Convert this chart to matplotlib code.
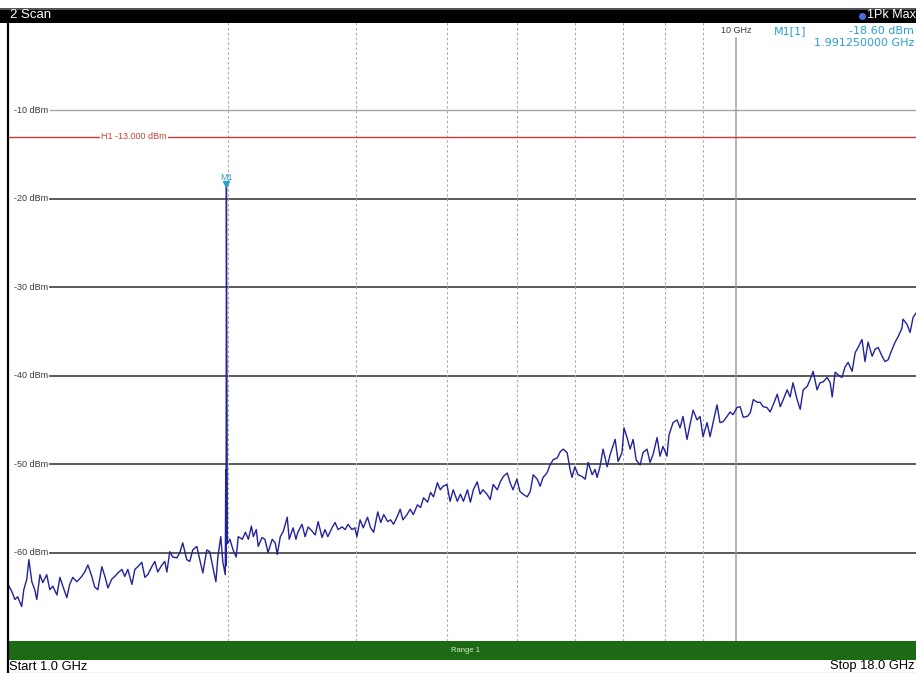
import matplotlib
matplotlib.use("Agg")
import matplotlib.pyplot as plt
from matplotlib.patches import Rectangle
from matplotlib.lines import Line2D
import matplotlib.transforms as mtransforms

# ---------------- data ----------------
freq_ghz = [
    1.000, 1.009, 1.019, 1.028, 1.041, 1.048, 1.058, 1.065, 1.075, 1.085,
    1.092, 1.103, 1.113, 1.127, 1.138, 1.149, 1.164, 1.175, 1.186, 1.201,
    1.212, 1.224, 1.240, 1.259, 1.271, 1.284, 1.300, 1.312, 1.325, 1.342,
    1.355, 1.368, 1.385, 1.398, 1.412, 1.430, 1.443, 1.457, 1.476, 1.490,
    1.504, 1.523, 1.538, 1.552, 1.572, 1.587, 1.602, 1.623, 1.638, 1.649,
    1.664, 1.680, 1.702, 1.718, 1.734, 1.756, 1.773, 1.790, 1.813, 1.830,
    1.848, 1.871, 1.889, 1.907, 1.926, 1.938, 1.956, 1.969, 1.981,
    1.984, 1.987, 1.989, 1.99125, 1.994, 1.997,
    2.0135, 2.0337, 2.0539, 2.0674, 2.0943, 2.1146, 2.1348, 2.1550, 2.1685, 2.1887,
    2.2022, 2.2291, 2.2493, 2.2718, 2.3018, 2.3243, 2.3393, 2.3619, 2.3844, 2.4144,
    2.4294, 2.4595, 2.4820, 2.4970, 2.5299, 2.5548, 2.5797, 2.6130, 2.6379, 2.6628,
    2.6960, 2.7209, 2.7459, 2.7818, 2.8091, 2.8364, 2.8727, 2.9000, 2.9273, 2.9636,
    2.9909, 3.0103, 3.0412, 3.0720, 3.1132, 3.1440, 3.1749, 3.2160, 3.2469, 3.2778,
    3.3189, 3.3498, 3.3807, 3.4218, 3.4527, 3.4835, 3.5285, 3.5641, 3.5998, 3.6473,
    3.6829, 3.7185, 3.7660, 3.8017, 3.8373, 3.8848, 3.9204, 3.9560, 4.0040, 4.0444,
    4.0847, 4.1384, 4.1788, 4.2191, 4.2729, 4.3132, 4.3535, 4.4073, 4.4476, 4.4879,
    4.5465, 4.5916, 4.6366, 4.6967, 4.7417, 4.7868, 4.8468, 4.8919, 4.9369, 4.9970,
    5.0467, 5.0967, 5.1633, 5.2133, 5.2633, 5.3300, 5.3800, 5.4300, 5.4967, 5.5509,
    5.6055, 5.6782, 5.7327, 5.7873, 5.8600, 5.9145, 5.9509, 6.0060, 6.0655, 6.1448,
    6.2044, 6.2639, 6.3433, 6.4028, 6.4425, 6.5021, 6.5662, 6.6517, 6.7158, 6.8227,
    6.8868, 6.9722, 7.0161, 7.0849, 7.1537, 7.2225, 7.2913, 7.3830, 7.4518, 7.5466,
    7.6201, 7.6936, 7.7917, 7.8652, 7.9387, 8.0393, 8.0916, 8.1963, 8.3010, 8.3796,
    8.4581, 8.5667, 8.6500, 8.7333, 8.8444, 8.9278, 9.0117, 9.1287, 9.2164, 9.3041,
    9.4211, 9.5093, 9.6019, 9.7253, 9.8179, 9.9105, 10.0365, 10.1362, 10.2359, 10.3688,
    10.4684, 10.5681, 10.7010, 10.8007, 10.9003, 11.0365, 11.1460, 11.2555, 11.4015, 11.5109,
    11.6204, 11.7664, 11.8759, 11.9842, 12.1423, 12.2609, 12.3794, 12.5376, 12.6561, 12.7747,
    12.9328, 13.0556, 13.1838, 13.3547, 13.4829, 13.5684, 13.6966, 13.8248, 13.9954, 14.1330,
    14.2706, 14.4541, 14.5917, 14.7294, 14.9129, 15.0542, 15.2020, 15.3990, 15.5468, 15.6946,
    15.8916, 16.0417, 16.1979, 16.4063, 16.5625, 16.7187, 16.9271, 16.9800, 17.2000, 17.3667,
    17.5333, 17.7000, 17.8500, 18.0000,
]

level_dbm = [
    -63.8, -64.4, -65.3, -65.0, -66.1, -64.2, -63.0, -60.8, -63.3, -64.2,
    -65.3, -62.5, -63.4, -62.5, -64.2, -63.8, -64.8, -62.8, -63.8, -65.1,
    -63.6, -62.8, -63.3, -62.7, -62.2, -61.4, -62.7, -63.9, -64.2, -61.6,
    -62.7, -64.0, -63.0, -62.7, -62.3, -61.9, -62.7, -61.9, -63.6, -61.9,
    -61.6, -61.1, -62.8, -62.5, -61.6, -61.0, -62.2, -61.4, -61.0, -62.2,
    -59.9, -60.5, -60.6, -60.0, -58.9, -60.8, -61.0, -59.7, -59.3, -60.8,
    -62.3, -59.7, -59.9, -61.6, -63.3, -60.5, -58.2, -61.1, -62.2,
    -62.5, -50.6, -61.5, -18.6, -40.2, -59.0,
    -58.5, -59.7, -60.5, -58.2, -58.5, -57.7, -58.5, -57.0, -58.2, -57.4,
    -59.3, -58.3, -58.5, -60.0, -58.5, -58.9, -60.2, -58.2, -57.6, -56.0,
    -58.5, -57.2, -58.5, -57.7, -56.8, -58.2, -57.1, -57.6, -58.0, -56.5,
    -58.3, -57.4, -58.2, -57.2, -56.6, -57.4, -57.1, -57.4, -56.8, -57.4,
    -57.2, -58.2, -56.3, -57.2, -56.0, -57.2, -57.7, -55.4, -56.6, -55.7,
    -56.5, -56.3, -56.8, -55.9, -55.1, -56.3, -55.7, -55.1, -55.7, -54.6,
    -54.9, -53.8, -54.3, -53.2, -53.7, -52.1, -52.9, -52.5, -52.3, -54.2,
    -52.9, -54.2, -53.4, -54.2, -52.9, -54.3, -52.9, -52.0, -53.4, -52.9,
    -53.4, -54.0, -52.3, -52.9, -52.0, -51.4, -51.0, -52.1, -52.9, -51.7,
    -53.1, -53.4, -53.7, -53.1, -51.2, -51.7, -52.5, -51.5, -51.0, -50.1,
    -49.5, -49.3, -48.6, -48.3, -48.7, -50.6, -51.5, -50.3, -51.2, -51.4,
    -51.7, -49.8, -51.2, -50.6, -51.5, -50.3, -48.3, -50.3, -48.9, -47.2,
    -49.7, -48.7, -45.9, -47.0, -48.3, -47.2, -49.5, -50.1, -48.7, -48.3,
    -49.8, -48.9, -47.0, -49.1, -48.0, -49.1, -46.7, -45.3, -45.0, -45.9,
    -44.6, -47.2, -45.5, -43.9, -45.0, -44.6, -46.9, -45.3, -46.9, -45.3,
    -43.3, -45.3, -45.2, -44.6, -44.1, -44.4, -43.6, -43.5, -44.7, -44.6,
    -44.2, -42.7, -43.0, -43.0, -43.5, -43.6, -44.1, -43.3, -42.1, -43.5,
    -42.7, -41.6, -42.4, -40.8, -42.7, -43.8, -41.6, -41.2, -40.4, -39.5,
    -41.6, -40.8, -40.7, -40.2, -40.8, -42.4, -39.6, -39.9, -40.2, -39.0,
    -38.5, -39.5, -37.4, -36.8, -35.9, -38.4, -36.2, -37.8, -37.0, -36.8,
    -37.8, -38.4, -38.2, -37.0, -36.2, -35.6, -34.6, -33.6, -34.2, -35.1,
    -33.4, -32.9, -32.6, -33.0,
]

y_grid_dbm = [-10, -20, -30, -40, -50, -60]
v_grid_ghz = [2, 3, 4, 5, 6, 7, 8, 9]
v_solid_ghz = 10
h1_level = -13.0
marker_freq = 1.99125
marker_level = -18.6
start_ghz, stop_ghz = 1.0, 18.0
ref_top, ref_bottom = 0, -70

# ---------------- figure ----------------
W, H = 916, 673
fig = plt.figure(figsize=(W / 100, H / 100), dpi=100)
fig.patch.set_facecolor("white")

def fx(px):
    return px / W

def fy(py):
    return 1 - py / H

FONT = ["Liberation Sans", "DejaVu Sans"]
AX_W = 921.4 - 9

# plot area (extends slightly past the right edge, as in the screenshot)
ax = fig.add_axes([fx(9), fy(641), AX_W / W, (641 - 22) / H])
ax.set_xscale("log")
ax.set_xlim(start_ghz, stop_ghz)
ax.set_ylim(ref_bottom, ref_top)
ax.set_axis_off()

ytr = ax.get_yaxis_transform()

# horizontal grid, each line starting right after its label
for v in y_grid_dbm:
    x0 = (50 - 9) / AX_W
    if v == -10:
        ax.axhline(v, xmin=x0, color="#a6a6a6", lw=1.0, zorder=1)
    else:
        ax.axhline(v, xmin=x0, color="#3e3e3e", lw=1.2, zorder=1)
    ax.text((14 - 9) / AX_W, v, f"{v} dBm", transform=ytr, ha="left", va="center",
            fontsize=6.5, color="#3a3a3a", family=FONT, zorder=3,
            bbox=dict(fc="white", ec="none", pad=0.8))

# vertical grid
for f in v_grid_ghz:
    ax.axvline(f, color="#a9a9a9", lw=0.8, ls=(0, (2.2, 2.2)), zorder=1)
ax.axvline(v_solid_ghz, ymin=0, ymax=(70 - 1.8) / 70, color="#a0a0a0", lw=1.1, zorder=1)
ax.text(v_solid_ghz, -0.95, "10 GHz", ha="center", va="center",
        fontsize=6.5, color="#3a3a3a", family=FONT)

# H1 limit line
ax.axhline(h1_level, color="#d23a3a", lw=1.0, zorder=2)
ax.text((101 - 9) / AX_W, h1_level, "H1 -13.000 dBm", transform=ytr, ha="left",
        va="center", fontsize=6.5, color="#c84040", family=FONT, zorder=3,
        bbox=dict(fc="white", ec="none", pad=0.8))

# trace
ax.plot(freq_ghz, level_dbm, color="#22229a", lw=1.0, zorder=4)

# marker M1
off = mtransforms.offset_copy(ax.transData, fig=fig, x=0, y=1.6, units="points")
ax.plot([marker_freq], [marker_level], marker="v", ms=4.5, color="#2a9fd0",
        transform=off, zorder=5)
ax.annotate("M1", xy=(marker_freq, marker_level), xytext=(0, 6.5),
            textcoords="offset points", ha="center", va="center",
            fontsize=6.5, color="#2a9fd0", family=FONT)

# ---------------- chrome ----------------
# title bar
fig.add_artist(Rectangle((0, fy(22.5)), 1, (22.5 - 8) / H, transform=fig.transFigure,
                         facecolor="black", edgecolor="none"))
fig.add_artist(Rectangle((0, fy(10)), 1, 2 / H, transform=fig.transFigure,
                         facecolor="#555555", edgecolor="none"))
fig.text(fx(10), fy(15.5), "2 Scan", color="white", fontsize=9.5, va="center",
         ha="left", family=FONT)
fig.add_artist(Line2D([fx(862)], [fy(16)], marker="o", ms=4, color="#4a6ee0",
                      transform=fig.transFigure))
fig.text(fx(867), fy(15.5), "1Pk Max", color="white", fontsize=9, va="center",
         ha="left", family=FONT)

# marker readout
fig.text(fx(774), fy(31), "M1[1]", color="#2a9fd0", fontsize=8, va="center",
         ha="left", family="DejaVu Sans")
fig.text(fx(914), fy(31), "-18.60 dBm", color="#2a9fd0", fontsize=8, va="center",
         ha="right", family="DejaVu Sans")
fig.text(fx(914), fy(43), "1.991250000 GHz", color="#2a9fd0", fontsize=8,
         va="center", ha="right", family="DejaVu Sans")

# range bar
fig.add_artist(Rectangle((fx(9), fy(659.5)), 1, (659.5 - 641) / H,
                         transform=fig.transFigure, facecolor="#1c6b14", edgecolor="none"))
fig.text(fx(465), fy(650), "Range 1", color="#d8e8d0", fontsize=5.5, ha="center",
         va="center", family=FONT)

# start / stop
fig.text(fx(9), fy(666.5), "Start 1.0 GHz", color="black", fontsize=9.3, ha="left",
         va="center", family=FONT)
fig.text(fx(914), fy(666.5), "Stop 18.0 GHz", color="black", fontsize=9.3, ha="right",
         va="center", family=FONT)

# frame lines
fig.add_artist(Line2D([fx(8), fx(8)], [fy(22), fy(673)], color="black", lw=1.6,
                      transform=fig.transFigure))
fig.add_artist(Line2D([fx(8), 1], [fy(672.5), fy(672.5)], color="#333333", lw=0.8,
                      transform=fig.transFigure))

fig.savefig("out.png", dpi=100)
